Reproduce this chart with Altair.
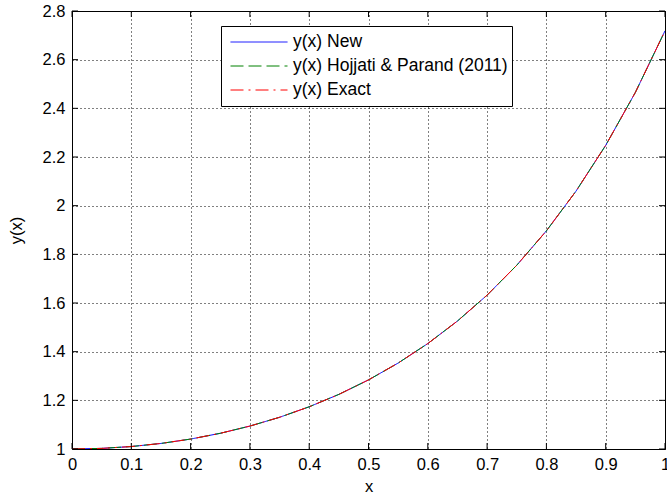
import altair as alt
import pandas as pd

x_vals = [0.0, 0.05, 0.1, 0.15, 0.2, 0.25, 0.3, 0.35, 0.4, 0.45, 0.5,
          0.55, 0.6, 0.65, 0.7, 0.75, 0.8, 0.85, 0.9, 0.95, 1.0]
y_new = [1.0000, 1.0025, 1.0101, 1.0228, 1.0408, 1.0645, 1.0942, 1.1303, 1.1735, 1.2244, 1.2840,
         1.3532, 1.4333, 1.5259, 1.6323, 1.7551, 1.8965, 2.0599, 2.2479, 2.4653, 2.7183]
y_hojjati = [1.0000, 1.0025, 1.0101, 1.0228, 1.0408, 1.0645, 1.0942, 1.1303, 1.1735, 1.2244, 1.2840,
             1.3532, 1.4333, 1.5259, 1.6323, 1.7551, 1.8965, 2.0599, 2.2479, 2.4653, 2.7183]
y_exact = [1.0000, 1.0025, 1.0101, 1.0228, 1.0408, 1.0645, 1.0942, 1.1303, 1.1735, 1.2244, 1.2840,
           1.3532, 1.4333, 1.5259, 1.6323, 1.7551, 1.8965, 2.0599, 2.2479, 2.4653, 2.7183]
series_names = ["y(x) New", "y(x) Hojjati & Parand (2011)", "y(x) Exact"]
x_ticks = [0, 0.1, 0.2, 0.3, 0.4, 0.5, 0.6, 0.7, 0.8, 0.9, 1.0]
y_ticks = [1, 1.2, 1.4, 1.6, 1.8, 2, 2.2, 2.4, 2.6, 2.8]

rows = []
for i, s in enumerate(series_names):
    ys = [y_new, y_hojjati, y_exact][i]
    for xv, yv in zip(x_vals, ys):
        rows.append({"x": xv, "y": yv, "series": s, "order": i})
df = pd.DataFrame(rows)

W, H = 593, 438
FONT = "Liberation Sans"
FS = 16.5

xscale = alt.Scale(domain=[0, 1], nice=False, zero=False)
yscale = alt.Scale(domain=[1, 2.8], nice=False, zero=False)

common = dict(grid=True, gridColor="black", gridDash=[1, 3], gridOpacity=1,
              gridWidth=1, tickSize=0, domain=False, labelFontSize=FS,
              titleFontSize=FS, labelColor="black", titleColor="black",
              labelFont=FONT, titleFont=FONT, titleFontWeight="normal",
              labelFlush=False, format="~g")
x_axis = alt.Axis(values=x_ticks, title="x", labelPadding=7, titlePadding=6, **common)
y_axis = alt.Axis(values=y_ticks, title="y(x)", labelPadding=7, titlePadding=18, **common)

lines = alt.Chart(df).mark_line(strokeWidth=1, clip=True).encode(
    x=alt.X("x:Q", scale=xscale, axis=x_axis),
    y=alt.Y("y:Q", scale=yscale, axis=y_axis),
    color=alt.Color("series:N", sort=series_names,
                    scale=alt.Scale(domain=series_names, range=["#0000ff", "#008000", "#ff0000"]),
                    legend=alt.Legend(title=None, orient="none", legendX=149, legendY=15,
                                      fillColor="white", strokeColor="black",
                                      padding=4, symbolType="stroke",
                                      symbolSize=3249, symbolStrokeWidth=1,
                                      symbolOffset=5, clipHeight=24, rowPadding=0,
                                      labelFont=FONT, labelFontSize=17.5,
                                      labelColor="black", labelOffset=5,
                                      labelLimit=500,
                                      labelExpr="datum.label + '\\u00a0\\u00a0'",
                                      cornerRadius=0)),
    strokeDash=alt.StrokeDash("series:N", sort=series_names,
                              scale=alt.Scale(domain=series_names,
                                              range=[[1, 0], [13, 5], [13, 5, 2, 5]]),
                              legend=None),
    order="order:Q",
    detail="series:N",
)

xt = pd.DataFrame({"x": x_ticks})
yt = pd.DataFrame({"y": y_ticks})
xtick_b = alt.Chart(xt).mark_rule(color="black", strokeWidth=1).encode(
    x=alt.X("x:Q", scale=xscale), y=alt.value(H - 6), y2=alt.value(H))
xtick_t = alt.Chart(xt).mark_rule(color="black", strokeWidth=1).encode(
    x=alt.X("x:Q", scale=xscale), y=alt.value(0), y2=alt.value(6))
ytick_l = alt.Chart(yt).mark_rule(color="black", strokeWidth=1).encode(
    y=alt.Y("y:Q", scale=yscale), x=alt.value(0), x2=alt.value(6))
ytick_r = alt.Chart(yt).mark_rule(color="black", strokeWidth=1).encode(
    y=alt.Y("y:Q", scale=yscale), x=alt.value(W - 6), x2=alt.value(W))

chart = alt.layer(lines, xtick_b, xtick_t, ytick_l, ytick_r).properties(
    width=W, height=H,
    autosize=alt.AutoSizeParams(type="none"),
    padding={"left": 72, "top": 11, "right": 2, "bottom": 48},
    background="white",
).configure_view(stroke="black", strokeWidth=1)

chart.save("out.html", embed_options={"renderer": "svg", "actions": False})
